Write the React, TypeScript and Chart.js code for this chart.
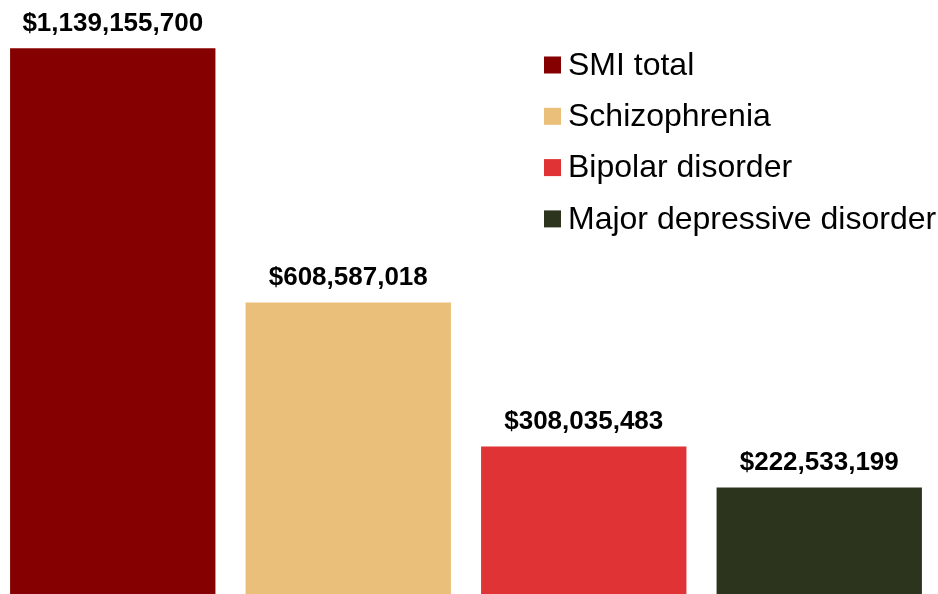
import React, { useEffect, useRef } from "react";
import { Chart, registerables } from "chart.js";

Chart.register(...registerables);

const categories = ["SMI total", "Schizophrenia", "Bipolar disorder", "Major depressive disorder"];
const costs = [1139155700, 608587018, 308035483, 222533199];
const colors = ["#850000", "#EABF7A", "#E03335", "#2D341E"];

const fmt = (v: number) => "$" + v.toLocaleString("en-US");

const labelPlugin = {
  id: "barLabels",
  afterDatasetsDraw(chart: any) {
    const ctx = chart.ctx;
    const meta = chart.getDatasetMeta(0);
    ctx.save();
    ctx.font = "bold 26px 'Liberation Sans', Arial, sans-serif";
    ctx.fillStyle = "#000";
    ctx.textAlign = "center";
    ctx.textBaseline = "alphabetic";
    meta.data.forEach((bar: any, i: number) => {
      ctx.fillText(fmt(costs[i]), bar.x, bar.y - 17);
    });
    ctx.restore();
  },
};

const legendPlugin = {
  id: "sideLegend",
  afterDraw(chart: any) {
    const ctx = chart.ctx;
    const x0 = 549;
    const y0 = 65;
    const step = 51.3;
    const box = 17;
    ctx.save();
    ctx.font = "32px 'Liberation Sans', Arial, sans-serif";
    ctx.textBaseline = "middle";
    ctx.textAlign = "left";
    categories.forEach((c, i) => {
      const y = y0 + i * step;
      ctx.fillStyle = colors[i];
      ctx.fillRect(x0, y - box / 2, box, box);
      ctx.fillStyle = "#000";
      ctx.fillText(c, x0 + 24, y + 1);
    });
    ctx.restore();
  },
};

export default function App() {
  const ref = useRef<HTMLCanvasElement | null>(null);
  useEffect(() => {
    if (!ref.current) return;
    const chart = new Chart(ref.current, {
      type: "bar",
      data: {
        labels: categories,
        datasets: [
          {
            data: costs,
            backgroundColor: colors,
            borderWidth: 0,
            categoryPercentage: 1,
            barPercentage: 0.872,
          },
        ],
      },
      options: {
        animation: false,
        responsive: true,
        maintainAspectRatio: false,
        layout: { padding: 0 },
        plugins: { legend: { display: false }, tooltip: { enabled: false } },
        scales: {
          x: { display: false },
          y: { display: false, min: 0, max: 1240000000 },
        },
      },
      plugins: [labelPlugin, legendPlugin],
    });
    return () => chart.destroy();
  }, []);
  return (
    <div style={{ position: "fixed", left: -5, top: 0, width: 942, height: 594, background: "#fff" }}>
      <canvas ref={ref} />
    </div>
  );
}
